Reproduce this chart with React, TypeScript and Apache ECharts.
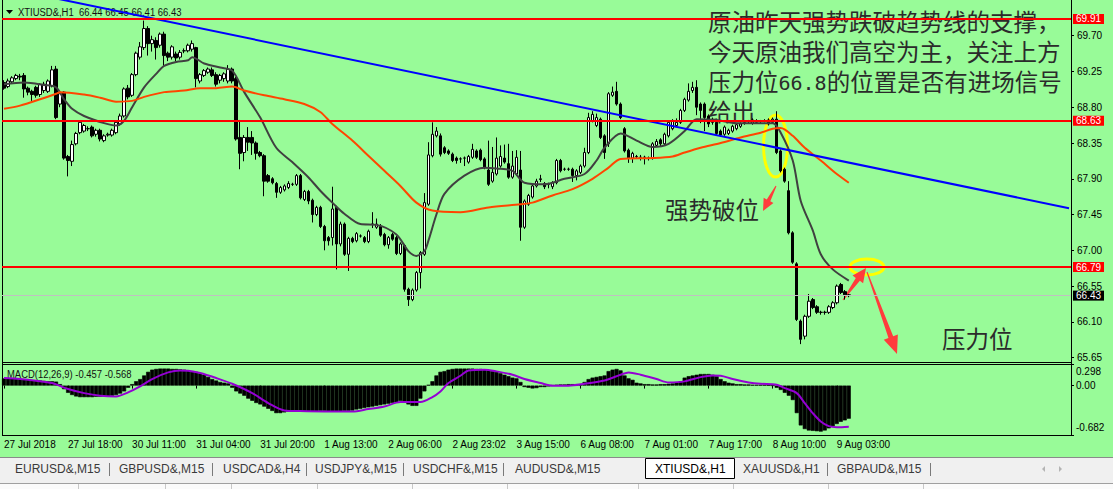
import { useEffect, useRef } from "react";
import * as echarts from "echarts";

// ---------- data ----------
const symbolName = "XTIUSD&,H1";

// Hourly bars, oldest first: [open, close, low, high]
const bars: number[][] = [
  [69.11, 69.04, 69.02, 69.14], [69.06, 69.13, 69.04, 69.16], [69.12, 69.17, 69.1, 69.19], [69.16, 69.2, 69.14, 69.22],
  [69.19, 69.18, 69.14, 69.22], [69.2, 69.03, 68.92, 69.23], [69.04, 68.99, 68.95, 69.06], [69.0, 68.96, 68.88, 69.02],
  [69.05, 68.95, 68.92, 69.07], [68.96, 69.09, 68.93, 69.1], [69.01, 69.09, 68.98, 69.12], [69.0, 69.13, 68.98, 69.15],
  [69.07, 69.27, 69.05, 69.32], [69.28, 68.67, 68.65, 69.32], [68.84, 68.97, 68.8, 69.0], [68.99, 68.16, 68.14, 69.0],
  [68.18, 68.13, 67.93, 68.2], [68.12, 68.33, 68.06, 68.38], [68.34, 68.47, 68.32, 68.49], [68.48, 68.61, 68.46, 68.63],
  [68.5, 68.57, 68.48, 68.59], [68.53, 68.53, 68.5, 68.56], [68.55, 68.44, 68.42, 68.57], [68.46, 68.51, 68.43, 68.53],
  [68.51, 68.4, 68.37, 68.53], [68.38, 68.44, 68.36, 68.46], [68.45, 68.46, 68.43, 68.48], [68.45, 68.51, 68.43, 68.53],
  [68.48, 68.61, 68.46, 68.63], [68.59, 68.69, 68.57, 68.72], [68.69, 69.03, 68.67, 69.05], [69.04, 68.93, 68.9, 69.08],
  [68.95, 69.21, 68.93, 69.23], [69.21, 69.48, 69.19, 69.5], [69.43, 69.56, 69.4, 69.62], [69.55, 69.79, 69.52, 69.89],
  [69.79, 69.6, 69.45, 69.82], [69.6, 69.65, 69.5, 69.7], [69.64, 69.55, 69.4, 69.68], [69.58, 69.72, 69.55, 69.74],
  [69.72, 69.45, 69.32, 69.75], [69.48, 69.43, 69.38, 69.5], [69.43, 69.56, 69.4, 69.58], [69.47, 69.42, 69.38, 69.5],
  [69.43, 69.49, 69.4, 69.52], [69.51, 69.51, 69.48, 69.54], [69.51, 69.58, 69.49, 69.6], [69.53, 69.6, 69.5, 69.64],
  [69.55, 69.16, 69.05, 69.56], [69.13, 69.21, 69.1, 69.23], [69.2, 69.26, 69.18, 69.28], [69.24, 69.28, 69.22, 69.3],
  [69.27, 69.2, 69.18, 69.3], [69.21, 69.09, 69.06, 69.24], [69.14, 69.2, 69.1, 69.22], [69.16, 69.22, 69.12, 69.24],
  [69.13, 69.28, 69.1, 69.33], [69.28, 69.13, 69.1, 69.3], [69.16, 68.4, 68.38, 69.18], [68.42, 68.22, 68.02, 68.64],
  [68.23, 68.42, 68.12, 68.45], [68.42, 68.36, 68.25, 68.55], [68.42, 68.35, 68.2, 68.5], [68.35, 68.22, 68.14, 68.37],
  [68.23, 68.19, 68.17, 68.25], [68.19, 67.87, 67.68, 68.21], [67.94, 67.87, 67.85, 67.96], [67.9, 67.85, 67.83, 67.92],
  [67.84, 67.73, 67.66, 67.86], [67.73, 67.79, 67.71, 67.81], [67.76, 67.81, 67.74, 67.83], [67.79, 67.84, 67.77, 67.87],
  [67.83, 67.83, 67.81, 67.85], [67.83, 67.94, 67.81, 67.96], [67.94, 67.66, 67.64, 67.96], [67.64, 67.74, 67.62, 67.76],
  [67.74, 67.62, 67.58, 67.76], [67.63, 67.45, 67.35, 67.65], [67.45, 67.54, 67.43, 67.56], [67.54, 67.3, 67.28, 67.56],
  [67.3, 67.12, 67.0, 67.32], [67.16, 67.12, 67.06, 67.18], [67.16, 67.52, 67.06, 67.8], [67.54, 67.08, 66.76, 67.56],
  [67.08, 67.33, 67.05, 67.36], [67.33, 66.95, 66.93, 67.35], [66.95, 67.15, 66.74, 67.17], [67.15, 67.11, 67.09, 67.17],
  [67.12, 67.21, 67.1, 67.23], [67.18, 67.18, 67.16, 67.2], [67.16, 67.11, 67.09, 67.18], [67.11, 67.24, 67.09, 67.26],
  [67.33, 67.33, 67.28, 67.48], [67.29, 67.33, 67.27, 67.4], [67.3, 67.19, 67.17, 67.33], [67.2, 67.07, 67.05, 67.22],
  [67.07, 67.16, 67.02, 67.18], [67.2, 67.14, 67.12, 67.22], [67.16, 66.96, 66.94, 67.18], [66.96, 67.08, 66.94, 67.1],
  [67.06, 66.51, 66.48, 67.08], [66.51, 66.38, 66.3, 66.53], [66.38, 66.5, 66.36, 66.52], [66.5, 66.72, 66.48, 66.74],
  [66.72, 66.97, 66.52, 66.99], [66.95, 67.6, 66.93, 67.72], [67.58, 68.2, 67.56, 68.36], [68.19, 68.46, 68.17, 68.61],
  [68.44, 68.5, 68.42, 68.55], [68.44, 68.21, 68.18, 68.47], [68.29, 68.23, 68.21, 68.31], [68.25, 68.22, 68.2, 68.27],
  [68.21, 68.13, 68.11, 68.23], [68.16, 68.13, 68.09, 68.18], [68.15, 68.15, 68.1, 68.17], [68.16, 68.16, 68.06, 68.18],
  [68.11, 68.18, 68.09, 68.2], [68.17, 68.27, 68.15, 68.34], [68.25, 68.17, 68.15, 68.27], [68.26, 68.14, 68.12, 68.28],
  [68.15, 68.04, 68.02, 68.17], [68.01, 67.83, 67.81, 68.38], [67.87, 67.98, 67.85, 68.3], [67.96, 68.16, 67.94, 68.42],
  [68.06, 68.18, 68.04, 68.32], [68.16, 68.11, 68.09, 68.33], [68.09, 67.92, 67.9, 68.34], [67.92, 68.06, 67.9, 68.25],
  [67.96, 68.17, 67.94, 68.26], [68.01, 67.29, 67.12, 68.25], [67.29, 67.62, 67.27, 67.64], [67.58, 67.69, 67.56, 67.71],
  [67.67, 67.81, 67.65, 67.83], [67.81, 67.87, 67.79, 67.9], [67.89, 67.9, 67.86, 67.95], [67.84, 67.8, 67.77, 67.86],
  [67.83, 67.83, 67.78, 67.85], [67.8, 67.85, 67.77, 67.87], [67.85, 68.13, 67.83, 68.15], [68.13, 68.0, 67.98, 68.15],
  [68.02, 68.02, 68.0, 68.04], [68.02, 68.02, 68.0, 68.04], [68.02, 67.94, 67.86, 68.04], [67.94, 68.0, 67.88, 68.02],
  [67.98, 68.06, 67.96, 68.08], [68.06, 68.23, 68.04, 68.29], [68.23, 68.67, 68.21, 68.73], [68.63, 68.71, 68.61, 68.75],
  [68.57, 68.67, 68.55, 68.72], [68.65, 68.42, 68.4, 68.67], [68.44, 68.23, 68.15, 68.46], [68.34, 68.97, 68.3, 68.99],
  [68.95, 68.99, 68.93, 69.06], [69.0, 68.84, 68.82, 69.12], [68.84, 68.67, 68.65, 68.86], [68.53, 68.25, 68.23, 68.55],
  [68.26, 68.16, 68.1, 68.28], [68.16, 68.22, 68.1, 68.24], [68.18, 68.18, 68.15, 68.2], [68.17, 68.17, 68.13, 68.2],
  [68.17, 68.17, 68.08, 68.19], [68.16, 68.16, 68.13, 68.18], [68.16, 68.34, 68.14, 68.36], [68.32, 68.37, 68.3, 68.4],
  [68.39, 68.34, 68.3, 68.41], [68.34, 68.46, 68.32, 68.48], [68.44, 68.61, 68.42, 68.63], [68.53, 68.63, 68.51, 68.65],
  [68.57, 68.61, 68.55, 68.66], [68.61, 68.76, 68.59, 68.78], [68.76, 68.9, 68.74, 68.92], [68.89, 69.0, 68.87, 69.1],
  [69.01, 69.05, 68.98, 69.12], [69.05, 68.8, 68.7, 69.14], [68.84, 68.76, 68.6, 68.86], [68.84, 68.67, 68.5, 68.86],
  [68.69, 68.59, 68.55, 68.71], [68.65, 68.61, 68.58, 68.67], [68.61, 68.47, 68.45, 68.63], [68.5, 68.45, 68.43, 68.52],
  [68.46, 68.55, 68.44, 68.57], [68.47, 68.51, 68.45, 68.53], [68.5, 68.56, 68.48, 68.58], [68.53, 68.58, 68.51, 68.6],
  [68.56, 68.59, 68.54, 68.61], [68.61, 68.61, 68.58, 68.63], [68.62, 68.62, 68.6, 68.64], [68.6, 68.64, 68.58, 68.66],
  [68.61, 68.63, 68.59, 68.65], [68.62, 68.62, 68.6, 68.64], [68.63, 68.63, 68.61, 68.65], [68.64, 68.59, 68.57, 68.66],
  [68.61, 68.65, 68.59, 68.67], [68.65, 68.23, 68.21, 68.75], [68.25, 68.0, 67.98, 68.27], [68.02, 67.87, 67.85, 68.04],
  [67.75, 67.22, 67.2, 67.87], [67.22, 66.85, 66.83, 67.24], [66.83, 66.13, 66.11, 66.85], [66.11, 65.88, 65.82, 66.13],
  [65.92, 66.17, 65.88, 66.19], [66.17, 66.36, 66.15, 66.45], [66.38, 66.28, 66.26, 66.4], [66.29, 66.22, 66.2, 66.31],
  [66.22, 66.22, 66.19, 66.24], [66.22, 66.22, 66.19, 66.24], [66.22, 66.29, 66.2, 66.31], [66.28, 66.34, 66.26, 66.36],
  [66.34, 66.55, 66.32, 66.57], [66.57, 66.47, 66.45, 66.59], [66.48, 66.44, 66.38, 66.5], [66.44, 66.43, 66.41, 66.45],
];

// Moving averages sampled along the bars: [bar index, price]
const fastMA: number[][] = [
  [0, 69.09], [5, 69.11], [10, 69.08], [13, 69.05], [15, 68.9], [17, 68.78], [20, 68.69], [25, 68.6], [28, 68.57],
  [30, 68.63], [32, 68.8], [35, 69.05], [38, 69.22], [40, 69.32], [43, 69.37], [46, 69.39], [47, 69.43], [50, 69.35],
  [54, 69.3], [57, 69.26], [60, 68.99], [64, 68.67], [68, 68.29], [72, 68.11], [76, 67.92], [79, 67.75], [82, 67.6],
  [85, 67.46], [89, 67.33], [93, 67.32], [98, 67.2], [101, 66.99], [103, 66.93], [105, 66.99], [106, 67.12],
  [108, 67.45], [110, 67.71], [115, 67.94], [120, 68.04], [123, 68.03], [127, 68.0], [130, 67.85], [135, 67.83],
  [140, 67.9], [145, 67.96], [148, 68.13], [150, 68.29], [154, 68.47], [158, 68.38], [162, 68.3], [166, 68.34],
  [170, 68.5], [173, 68.65], [178, 68.64], [183, 68.6], [188, 68.6], [192, 68.6], [194, 68.48], [197, 68.13],
  [199, 67.62], [202, 67.25], [204, 66.95], [207, 66.76], [211, 66.62],
];
const slowMA: number[][] = [
  [0, 68.78], [4, 68.82], [9, 68.9], [13, 68.97], [14, 68.99], [20, 68.96], [24, 68.92], [28, 68.87], [32, 68.88],
  [35, 68.93], [40, 68.99], [45, 69.01], [49, 69.04], [53, 69.04], [57, 69.06], [60, 69.01], [65, 68.95], [70, 68.9],
  [75, 68.84], [79, 68.74], [82, 68.59], [87, 68.38], [91, 68.19], [95, 68.0], [99, 67.81], [103, 67.6], [107, 67.5],
  [114, 67.48], [121, 67.54], [129, 67.58], [132, 67.6], [137, 67.69], [142, 67.77], [147, 67.9], [151, 68.04],
  [154, 68.15], [162, 68.16], [167, 68.18], [170, 68.23], [174, 68.29], [179, 68.35], [184, 68.42], [189, 68.48],
  [192, 68.53], [194, 68.54], [197, 68.44], [200, 68.29], [204, 68.13], [208, 67.96], [211, 67.85],
];
// Falling trend line through the highs: [bar index, price]
const trendLine: number[][] = [[10, 70.2], [266, 67.53]];
// Horizontal support / resistance levels
const levelPrices = [69.91, 68.63, 66.79];
const priceTicks = [65.65, 66.1, 66.55, 67.0, 67.45, 67.9, 68.35, 68.8, 69.25, 69.7];

// MACD(12,26,9)
const macdParams = "12,26,9";
const macdMain = [
  0.1, 0.1, 0.095, 0.09, 0.09, 0.085, 0.08, 0.075, 0.07, 0.07,
  0.065, 0.06, 0.06, 0.055, 0.02, -0.05, -0.1, -0.13, -0.15, -0.16,
  -0.16, -0.16, -0.16, -0.155, -0.155, -0.15, -0.15, -0.14, -0.13, -0.11,
  -0.08, -0.03, 0.02, 0.06, 0.09, 0.14, 0.19, 0.22, 0.23, 0.235,
  0.235, 0.235, 0.23, 0.23, 0.225, 0.22, 0.21, 0.2, 0.19, 0.17,
  0.15, 0.12, 0.09, 0.07, 0.05, 0.04, 0.03, -0.03, -0.08, -0.11,
  -0.14, -0.18, -0.21, -0.24, -0.26, -0.29, -0.32, -0.35, -0.38, -0.38,
  -0.37, -0.36, -0.35, -0.35, -0.35, -0.355, -0.36, -0.36, -0.355, -0.35,
  -0.35, -0.355, -0.36, -0.36, -0.355, -0.35, -0.35, -0.345, -0.33, -0.32,
  -0.31, -0.3, -0.29, -0.28, -0.27, -0.26, -0.25, -0.24, -0.23, -0.21,
  -0.22, -0.26, -0.28, -0.28, -0.18, -0.08, 0.01, 0.06, 0.14, 0.19,
  0.2, 0.22, 0.23, 0.235, 0.235, 0.235, 0.235, 0.235, 0.23, 0.23,
  0.225, 0.21, 0.2, 0.19, 0.17, 0.15, 0.13, 0.11, 0.1, 0.05,
  -0.02, -0.03, -0.04, -0.035, -0.02, -0.02, -0.01, 0.005, 0.01, 0.015,
  0.015, 0.02, 0.02, 0.02, 0.02, 0.05, 0.09, 0.11, 0.12, 0.13,
  0.14, 0.2, 0.22, 0.23, 0.21, 0.14, 0.1, 0.08, 0.04, 0.03,
  0.02, 0.02, 0.015, 0.015, 0.02, 0.02, 0.025, 0.03, 0.04, 0.06,
  0.11, 0.13, 0.14, 0.15, 0.16, 0.16, 0.16, 0.15, 0.13, 0.09,
  0.06, 0.04, 0.03, 0.02, 0.02, 0.015, 0.015, 0.01, 0.01, 0.01,
  0.01, 0.005, 0.0, -0.03, -0.06, -0.1, -0.14, -0.2, -0.38, -0.55,
  -0.6, -0.62, -0.625, -0.63, -0.635, -0.62, -0.59, -0.56, -0.53, -0.5,
  -0.48, -0.457,
];
const macdSignal: number[][] = [
  [0, 0.104], [4, 0.09], [8, 0.067], [12, 0.035], [16, -0.048], [20, -0.104], [24, -0.14], [28, -0.15], [31, -0.094],
  [34, -0.012], [37, 0.09], [41, 0.182], [44, 0.209], [46, 0.205], [49, 0.173], [53, 0.104], [57, 0.025], [62, -0.104],
  [66, -0.242], [70, -0.343], [74, -0.352], [80, -0.357], [87, -0.357], [91, -0.324], [95, -0.288], [99, -0.228],
  [104, -0.228], [107, -0.159], [109, -0.081], [111, 0.035], [114, 0.136], [116, 0.209], [120, 0.219], [123, 0.196],
  [127, 0.15], [130, 0.09], [134, 0.035], [137, -0.002], [141, -0.002], [145, 0.025], [150, 0.071], [154, 0.15],
  [156, 0.182], [159, 0.15], [163, 0.09], [166, 0.044], [170, 0.058], [174, 0.117], [177, 0.14], [179, 0.136],
  [182, 0.09], [186, 0.044], [189, 0.025], [193, 0.012], [195, -0.035], [198, -0.104], [200, -0.242], [202, -0.38],
  [204, -0.495], [206, -0.56], [208, -0.575], [211, -0.568],
];
const macdTicks = [0.298, 0, -0.682];

// Time scale labels, one every 16 bars
const timeLabels = [
  "27 Jul 2018", "27 Jul 18:00", "30 Jul 11:00", "31 Jul 04:00", "31 Jul 20:00", "1 Aug 13:00", "2 Aug 06:00",
  "2 Aug 23:02", "3 Aug 15:00", "6 Aug 08:00", "7 Aug 01:00", "7 Aug 17:00", "8 Aug 10:00", "9 Aug 03:00",
];

const tabNames = [
  "EURUSD&,M15", "GBPUSD&,M15", "USDCAD&,H4", "USDJPY&,M15", "USDCHF&,M15", "AUDUSD&,M15", "XTIUSD&,H1",
  "XAUUSD&,H1", "GBPAUD&,M15",
];
const activeTab = "XTIUSD&,H1";

const noteLines = [
  "原油昨天强势跌破趋势线的支撑，",
  "今天原油我们高空为主，关注上方",
  "压力位{d|66.8}的位置是否有进场信号",
  "给出",
];
const breakNote = "强势破位";
const resistanceNote = "压力位";

// ---------- layout ----------
const W = 1113;
const H = 489;
const BG = "#98fb98";
const SLOTS = 267;
const BARS_PER_LABEL = 16;
const PLOT_L = 2;
const PLOT_W = 1069;
const MAIN_TOP = 0;
const MAIN_H = 362;
const MACD_TOP = 364;
const MACD_H = 71;
const PRICE_MIN = 65.595;
const PRICE_MAX = 70.149;
const MACD_MIN = -0.682;
const MACD_MAX = 0.298;
const UI_FONT = "'Liberation Sans',sans-serif";
const UI_SIZE = 10;
const NOTE_FONT = "'DejaVu Sans','Noto Sans CJK SC',sans-serif";
const TEXT = "#2b2b2b";
const ARROW = "#ff3c3c";
const tabX = [15, 119, 223, 315, 413, 515, 655, 743, 837];
const tabSeparators = [109, 212, 306, 403, 503, 827, 930];
const statusDividers = [78, 165, 231, 317, 412, 507, 638, 733, 828, 923];

function arrowPoints(tail: number[], tip: number[], tailW: number, neckW: number, headW: number, headL: number) {
  const dx = tip[0] - tail[0];
  const dy = tip[1] - tail[1];
  const len = Math.hypot(dx, dy);
  const ux = dx / len;
  const uy = dy / len;
  const nx = -uy;
  const ny = ux;
  const neck = [tip[0] - ux * headL, tip[1] - uy * headL];
  return [
    [tail[0] + (nx * tailW) / 2, tail[1] + (ny * tailW) / 2],
    [neck[0] + (nx * neckW) / 2, neck[1] + (ny * neckW) / 2],
    [neck[0] + (nx * headW) / 2, neck[1] + (ny * headW) / 2],
    tip,
    [neck[0] - (nx * headW) / 2, neck[1] - (ny * headW) / 2],
    [neck[0] - (nx * neckW) / 2, neck[1] - (ny * neckW) / 2],
    [tail[0] - (nx * tailW) / 2, tail[1] - (ny * tailW) / 2],
  ];
}

function hline(x1: number, x2: number, y: number, stroke: string, lineWidth = 1) {
  return { type: "line", silent: true, shape: { x1, y1: y, x2, y2: y }, style: { stroke, lineWidth } };
}
function vline(x: number, y1: number, y2: number, stroke: string, lineWidth = 1) {
  return { type: "line", silent: true, shape: { x1: x, y1, x2: x, y2 }, style: { stroke, lineWidth } };
}

function noteText(text: string, x: number, y: number) {
  return {
    type: "text", silent: true, x, y,
    style: {
      text, fontSize: 23.5, fontFamily: NOTE_FONT, fill: TEXT, verticalAlign: "middle", lineHeight: 24,
      rich: { d: { fontSize: 20, lineHeight: 24, fontFamily: "'DejaVu Sans Mono',monospace", fill: TEXT } },
    },
  };
}

function buildOption() {
  const slots = Array.from({ length: SLOTS }, (_, i) => String(i));
  const isLabelSlot = (i: number) => i % BARS_PER_LABEL === 0 && i / BARS_PER_LABEL < timeLabels.length;
  const last = bars[bars.length - 1];
  const lastClose = last[1];
  const header = `${symbolName}  ${[last[0], last[3], last[2], last[1]].map((v) => v.toFixed(2)).join(" ")}`;
  const macdTitle = `MACD(${macdParams}) ${macdMain[macdMain.length - 1].toFixed(3)} ${macdSignal[
    macdSignal.length - 1
  ][1].toFixed(3)}`;

  const graphic: any[] = [];

  // pane frames
  const right = PLOT_L + PLOT_W + 0.5;
  graphic.push(vline(PLOT_L + 0.5, 0, MACD_TOP + MACD_H + 0.5, "#000"));
  graphic.push(vline(right, 0, MACD_TOP + MACD_H + 0.5, "#000"));
  graphic.push(hline(PLOT_L, right, MAIN_TOP + MAIN_H + 0.5, "#000"));
  graphic.push(hline(PLOT_L, right, MACD_TOP + 0.5, "#000"));
  graphic.push(hline(PLOT_L, right, MACD_TOP + MACD_H + 0.5, "#000"));

  // title rows
  graphic.push({ type: "polygon", silent: true, shape: { points: [[6, 10], [13, 10], [9.5, 14]] }, style: { fill: "#000" } });
  graphic.push({
    type: "text", silent: true, x: 18, y: 12, scaleX: 0.86,
    style: { text: header, fontSize: 11, fontFamily: UI_FONT, fill: "#111", verticalAlign: "middle" },
  });
  graphic.push({
    type: "text", silent: true, x: 7, y: 374, scaleX: 0.86,
    style: { text: macdTitle, fontSize: 11, fontFamily: UI_FONT, fill: "#111", verticalAlign: "middle" },
  });

  // commentary
  noteLines.forEach((line, k) => graphic.push(noteText(line, 708, 22.5 + k * 30)));
  graphic.push(noteText(breakNote, 665, 210.5));
  graphic.push(noteText(resistanceNote, 942, 340));

  // highlight rings and arrows
  graphic.push({ type: "ellipse", silent: true, shape: { cx: 775.5, cy: 146, rx: 12, ry: 31 }, style: { stroke: "#ffff00", lineWidth: 3, fill: "none" } });
  graphic.push({ type: "ellipse", silent: true, shape: { cx: 867, cy: 267, rx: 17, ry: 8 }, style: { stroke: "#ffff00", lineWidth: 3, fill: "none" } });
  graphic.push({ type: "polygon", silent: true, shape: { points: arrowPoints([776, 186], [763, 211], 1, 4, 11, 12) }, style: { fill: ARROW } });
  graphic.push({ type: "polygon", silent: true, shape: { points: arrowPoints([843, 300], [866, 268], 1, 5, 13, 14) }, style: { fill: ARROW } });
  graphic.push({ type: "polygon", silent: true, shape: { points: arrowPoints([867, 272], [897, 354], 1, 5, 15, 18) }, style: { fill: ARROW } });

  // symbol tabs
  graphic.push({ type: "rect", silent: true, shape: { x: 0, y: 457, width: W, height: 27 }, style: { fill: "#f0f0f0" } });
  graphic.push({ type: "rect", silent: true, shape: { x: 0, y: 484, width: W, height: 5 }, style: { fill: "#fbfbfb" } });
  graphic.push(hline(0, W, 457.5, "#8a8a8a"));
  graphic.push(hline(0, W, 483.5, "#a0a0a0"));
  statusDividers.forEach((x) => graphic.push(vline(x + 0.5, 484, 489, "#c8c8c8")));
  const activeIdx = tabNames.indexOf(activeTab);
  graphic.push({
    type: "rect", silent: true,
    shape: { x: tabX[activeIdx] - 9.5, y: 458.5, width: 89, height: 20 },
    style: { fill: "#ffffff", stroke: "#000", lineWidth: 1 },
  });
  tabSeparators.forEach((x) => graphic.push(vline(x + 0.5, 463, 476, "#7a7a7a")));
  tabNames.forEach((name, k) => {
    graphic.push({
      type: "text", silent: true, x: tabX[k], y: 469,
      style: {
        text: name, fontSize: 12, fontFamily: "'Liberation Sans',sans-serif",
        fill: name === activeTab ? "#000" : "#3a3a3a", verticalAlign: "middle",
      },
    });
  });
  graphic.push({ type: "polygon", silent: true, shape: { points: [[1045, 466], [1045, 472], [1042, 469]] }, style: { fill: "#b4b4b4" } });
  graphic.push({ type: "polygon", silent: true, shape: { points: [[1059, 466], [1059, 472], [1062, 469]] }, style: { fill: "#b4b4b4" } });

  const boxLabel = (bg: string) => ({
    backgroundColor: bg, color: "#fff", fontSize: UI_SIZE, fontFamily: UI_FONT, lineHeight: 11, padding: [0, 3, 0, 3],
  });

  return {
    animation: false,
    backgroundColor: BG,
    grid: [
      { left: PLOT_L, top: MAIN_TOP, width: PLOT_W, height: MAIN_H, show: false },
      { left: PLOT_L, top: MACD_TOP, width: PLOT_W, height: MACD_H, show: false },
    ],
    xAxis: [
      { type: "category", gridIndex: 0, data: slots, boundaryGap: true, show: false },
      {
        type: "category", gridIndex: 1, data: slots, boundaryGap: true,
        axisLine: { show: false },
        axisTick: {
          show: true, alignWithLabel: true, length: 3, lineStyle: { color: "#000" },
          interval: (i: number) => isLabelSlot(i),
        },
        axisLabel: {
          interval: (i: number) => isLabelSlot(i),
          formatter: (_v: string, i: number) => timeLabels[i / BARS_PER_LABEL] ?? "",
          align: "left", margin: 4, color: "#000", fontSize: UI_SIZE, fontFamily: UI_FONT,
        },
        splitLine: { show: false },
      },
    ],
    yAxis: [
      {
        type: "value", gridIndex: 0, position: "right", min: PRICE_MIN, max: PRICE_MAX,
        splitLine: { show: false }, axisLine: { show: false },
        axisTick: { show: true, customValues: priceTicks, length: 3, lineStyle: { color: "#000" } },
        axisLabel: {
          customValues: priceTicks, formatter: (v: number) => v.toFixed(2),
          margin: 6, color: "#000", fontSize: UI_SIZE, fontFamily: UI_FONT,
        },
      },
      {
        type: "value", gridIndex: 0, position: "right", min: PRICE_MIN, max: PRICE_MAX,
        splitLine: { show: false }, axisLine: { show: false }, axisTick: { show: false },
        axisLabel: {
          customValues: [...levelPrices, lastClose],
          formatter: (v: number) => (v === lastClose ? `{k|${v.toFixed(2)}}` : `{r|${v.toFixed(2)}}`),
          margin: 2,
          rich: { r: boxLabel("#ff0000"), k: boxLabel("#000000") },
        },
      },
      {
        type: "value", gridIndex: 1, position: "right", min: MACD_MIN, max: MACD_MAX,
        splitLine: { show: false }, axisLine: { show: false },
        axisTick: { show: true, customValues: macdTicks, length: 3, lineStyle: { color: "#000" } },
        axisLabel: {
          customValues: macdTicks,
          formatter: (v: number) =>
            v === 0 ? "{m|0.00}" : v > 0 ? `{t|${v.toFixed(3)}}` : `{b|${v.toFixed(3)}}`,
          margin: 5, color: "#000", fontSize: UI_SIZE, fontFamily: UI_FONT,
          rich: {
            m: { fontSize: UI_SIZE, fontFamily: UI_FONT, color: "#000" },
            t: { fontSize: UI_SIZE, fontFamily: UI_FONT, color: "#000", padding: [15, 0, 0, 0] },
            b: { fontSize: UI_SIZE, fontFamily: UI_FONT, color: "#000", padding: [0, 0, 15, 0] },
          },
        },
      },
    ],
    series: [
      {
        type: "candlestick", xAxisIndex: 0, yAxisIndex: 0, data: bars, barWidth: 3,
        itemStyle: { color: "#ffffff", color0: "#000000", borderColor: "#000000", borderColor0: "#000000", borderWidth: 1 },
        markLine: {
          silent: true, symbol: ["none", "none"], label: { show: false }, animation: false,
          data: [
            { yAxis: lastClose, lineStyle: { color: "#c0c0c0", width: 1, type: "solid" } },
            ...levelPrices.map((v) => ({ yAxis: v, lineStyle: { color: "#ff0000", width: 2, type: "solid" } })),
          ],
        },
      },
      {
        type: "line", xAxisIndex: 0, yAxisIndex: 0, data: fastMA, showSymbol: false, smooth: 0.3,
        lineStyle: { color: "#404040", width: 2 },
      },
      {
        type: "line", xAxisIndex: 0, yAxisIndex: 0, data: slowMA, showSymbol: false, smooth: 0.3,
        lineStyle: { color: "#ff4500", width: 2 },
      },
      {
        type: "line", xAxisIndex: 0, yAxisIndex: 0, data: trendLine, showSymbol: false,
        lineStyle: { color: "#0000ff", width: 2 },
      },
      {
        type: "bar", xAxisIndex: 1, yAxisIndex: 2, data: macdMain, barCategoryGap: "0%",
        itemStyle: { color: "#000", borderColor: "#000", borderWidth: 0.6 },
      },
      {
        type: "line", xAxisIndex: 1, yAxisIndex: 2, data: macdSignal, showSymbol: false, smooth: 0.3,
        lineStyle: { color: "#9400d3", width: 2 },
      },
    ],
    graphic,
  };
}

export default function App() {
  const ref = useRef<HTMLDivElement>(null);
  useEffect(() => {
    const el = ref.current;
    if (!el) return;
    const chart = echarts.init(el, null, { renderer: "svg" });
    chart.setOption(buildOption() as any);
    return () => chart.dispose();
  }, []);
  return (
    <div style={{ position: "fixed", left: 0, top: 0, width: W, height: H, background: BG, overflow: "hidden" }}>
      <div ref={ref} style={{ width: W, height: H }} />
    </div>
  );
}
